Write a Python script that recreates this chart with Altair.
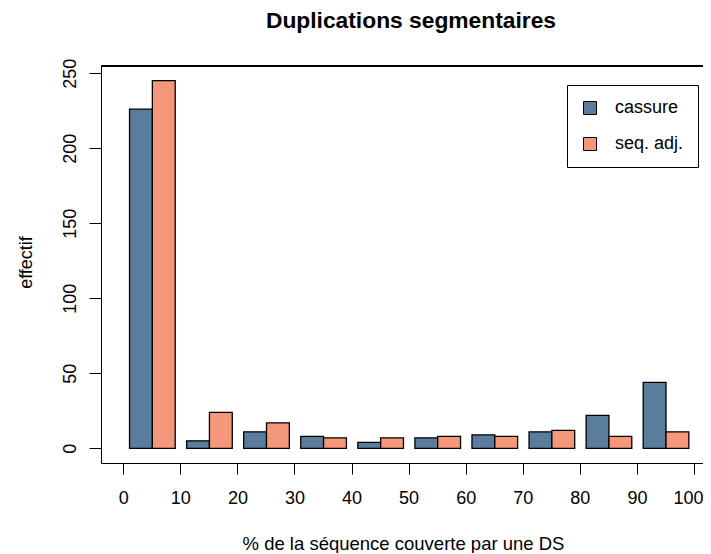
import altair as alt
import pandas as pd

# Data
bins = [0, 10, 20, 30, 40, 50, 60, 70, 80, 90]
cassure = [226, 5, 11, 8, 4, 7, 9, 11, 22, 44]
seq_adj = [245, 24, 17, 7, 7, 8, 8, 12, 8, 11]
series_names = ["cassure", "seq. adj."]
series_colors = ["#5b7d9d", "#f4977b"]
x_ticks = [0, 10, 20, 30, 40, 50, 60, 70, 80, 90, 100]
y_ticks = [0, 50, 100, 150, 200, 250]

rows = []
for b, c, s in zip(bins, cassure, seq_adj):
    for k, (name, v) in enumerate(zip(series_names, [c, s])):
        start = b + 1.1 + 4.0 * k
        rows.append({"bin": b, "series": name, "value": v,
                     "x0": start, "x1": start + 4.0})
df = pd.DataFrame(rows)

FONT = "Liberation Sans"

bars = alt.Chart(df).mark_bar(stroke="black", strokeWidth=1.3).encode(
    x=alt.X("x0:Q",
            scale=alt.Scale(domain=[-3.9, 101.58], nice=False, zero=False),
            axis=alt.Axis(values=x_ticks, tickSize=11, labelPadding=15,
                          labelFontSize=18, labelFlush=10, labelFlushOffset=9,
                          labelOverlap=False, grid=False,
                          title="% de la séquence couverte par une DS",
                          titleFontSize=18.5, titleFontWeight="normal",
                          titleX=302, titleY=86, titleBaseline="alphabetic",
                          titleAlign="center")),
    x2="x1:Q",
    y=alt.Y("value:Q",
            scale=alt.Scale(domain=[-9.8, 254.8], nice=False, zero=False),
            axis=alt.Axis(values=y_ticks, tickSize=12, labelAngle=270,
                          labelAlign="center", labelBaseline="alphabetic",
                          labelPadding=14, labelFontSize=18, grid=False,
                          title="effectif", titleFontSize=18,
                          titleFontWeight="normal", titleAngle=270,
                          titleX=-70, titleY=196, titleBaseline="alphabetic",
                          titleAlign="center")),
    y2=alt.datum(0),
    color=alt.Color("series:N",
                    scale=alt.Scale(domain=series_names, range=series_colors),
                    legend=alt.Legend(title=None, orient="none", legendX=466,
                                      legendY=19, symbolType="square",
                                      symbolSize=169, symbolStrokeColor="black",
                                      symbolStrokeWidth=1, labelFontSize=18,
                                      labelOffset=16, padding=14, rowPadding=18,
                                      strokeColor="black", fillColor="white")),
)

top_line = alt.Chart(df).mark_rule(color="black", strokeWidth=1).encode(
    x=alt.value(0), x2=alt.value(602), y=alt.value(0)
)

chart = alt.layer(bars, top_line).properties(
    width=602,
    height=397,
    title=alt.TitleParams("Duplications segmentaires", anchor="middle",
                          fontSize=22.8, fontWeight="bold", font=FONT,
                          baseline="alphabetic", offset=7, dx=9,
                          color="black"),
    autosize=alt.AutoSizeParams(type="none"),
    padding={"left": 93, "top": 58, "right": 0, "bottom": 90},
).configure_view(stroke=None).configure_axis(
    labelFont=FONT, titleFont=FONT, labelColor="black", titleColor="black",
    tickColor="black", domainColor="black", tickWidth=1, domainWidth=1,
).configure_legend(labelFont=FONT, labelColor="black")

chart.save("out.html", embed_options={"renderer": "svg", "actions": False})
